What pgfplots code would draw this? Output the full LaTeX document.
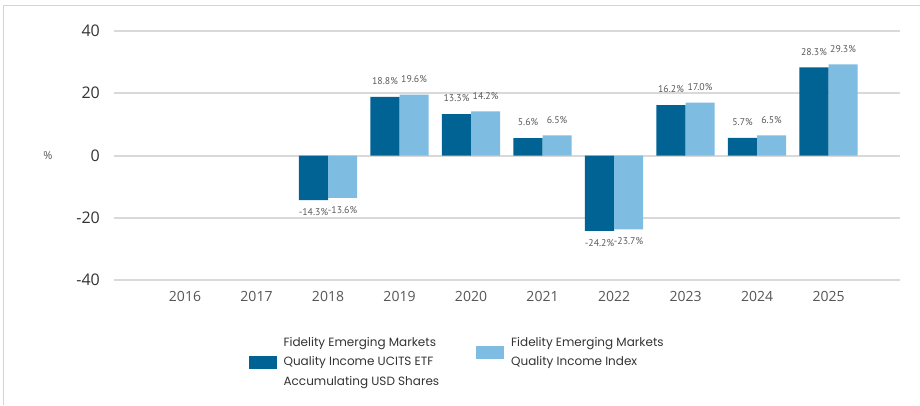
\documentclass[border=0pt]{standalone}
\usepackage{fontspec}
\setmainfont{Open Sans}
\newfontfamily\legfont{Poppins}
\newfontfamily\valfont{PT Sans}
\usepackage{pgfplots}
\usepackage{pgfplotstable}
\pgfplotsset{compat=1.18}
\definecolor{dark}{HTML}{006394}
\definecolor{light}{HTML}{7FBCE2}
\definecolor{gridc}{HTML}{D9D9D9}
\definecolor{txt}{HTML}{333333}
\definecolor{yeartxt}{HTML}{555555}
\definecolor{valtxt}{HTML}{595959}
\definecolor{framec}{HTML}{D4D4D4}

\pgfplotstableread{
x fund index
2 -14.3 -13.6
3 18.8 19.6
4 13.3 14.2
5 5.6 6.5
6 -24.2 -23.7
7 16.2 17.0
8 5.7 6.5
9 28.3 29.3
}\perf

\begin{document}
\begin{tikzpicture}[x=1bp,y=1bp]
\useasboundingbox (-114,-125) rectangle (806,280);
\draw[framec, line width=1.8bp] (-110.5,-125) -- (-110.5,274.5) -- (806,274.5);
\begin{axis}[
  at={(0,0)}, anchor=south west,
  scale only axis, width=786bp, height=249bp,
  /pgf/number format/assume math mode=true,
  xmin=-0.993, xmax=10.0, ymin=-40, ymax=40,
  ytick={-40,-20,0,20,40},
  xtick={0,1,2,3,4,5,6,7,8,9},
  xticklabels={2016,2017,2018,2019,2020,2021,2022,2023,2024,2025},
  axis line style={draw=none},
  major tick length=0pt,
  ymajorgrids, grid style={gridc, line width=2bp},
  yticklabel style={font=\fontsize{16bp}{18bp}\selectfont, text=txt, inner sep=0pt, xshift=-14bp},
  xticklabel style={font=\fontsize{14bp}{16bp}\selectfont, text=yeartxt, inner sep=0pt, yshift=-11bp},
  ylabel={\%},
  ylabel style={rotate=-90, at={(axis description cs:-0.084,0.5)}, anchor=center, font=\fontsize{11bp}{13bp}\selectfont, text=yeartxt},
  ybar=0pt, bar width=0.406,
  nodes near coords={\pgfmathprintnumber[fixed,fixed zerofill,precision=1,assume math mode=true]{\pgfplotspointmeta}\%},
  every node near coord/.append style={font=\valfont\fontsize{9.8bp}{11bp}\selectfont, text=valtxt, inner xsep=0pt, inner ysep=8bp, text height=7bp, text depth=4bp},
  legend columns=2,
  legend style={at={(axis description cs:0.171,-0.221)}, anchor=north west, draw=none, fill=none, inner sep=0pt,
    font=\legfont\fontsize{12bp}{19.5bp}\selectfont, text=txt,
    cells={align=left, anchor=west},
    /tikz/every odd column/.append style={column sep=5bp},
    /tikz/every even column/.append style={column sep=35bp}},
]
\addplot[fill=dark, draw=none, legend image code/.code={\fill[dark] (0bp,-6.5bp) rectangle (28bp,6.5bp);}] table[x=x,y=fund] {\perf};
\addlegendentry{Fidelity Emerging Markets\\Quality Income UCITS ETF\\Accumulating USD Shares}
\addplot[fill=light, draw=none, legend image code/.code={\fill[light] (0bp,3.25bp) rectangle (28bp,16.25bp);}] table[x=x,y=index] {\perf};
\addlegendentry{Fidelity Emerging Markets\\Quality Income Index\\\mbox{}}
\end{axis}
\end{tikzpicture}
\end{document}
